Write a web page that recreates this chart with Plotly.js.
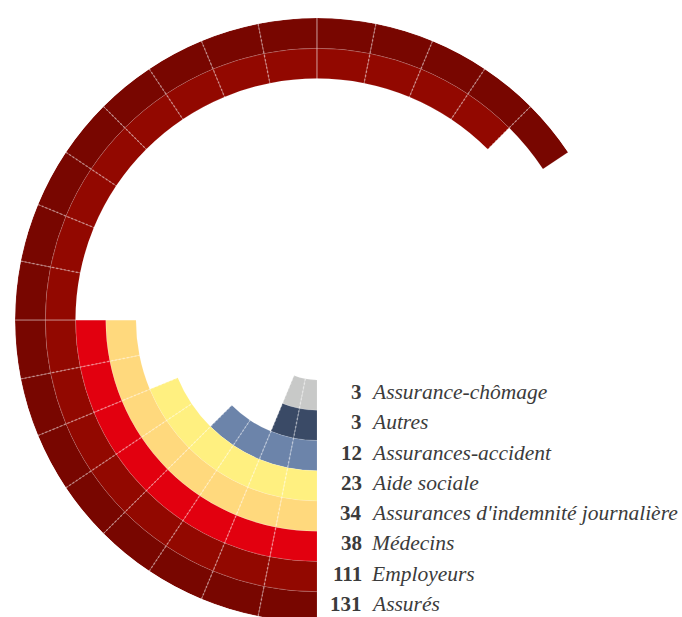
<!DOCTYPE html>
<html><head><meta charset="utf-8">
<script src="https://cdn.plot.ly/plotly-3.0.1.min.js"></script>
<style>html,body{margin:0;padding:0;overflow:hidden;background:#fff}#chart{width:682px;height:630px}</style>
</head><body><div id="chart"></div>
<script>
// Data (inner ring first)
const categories = ["Assurance-chômage","Autres","Assurances-accident","Aide sociale","Assurances d'indemnité journalière","Médecins","Employeurs","Assurés"];
const values = [3, 3, 12, 23, 34, 38, 111, 131];
// number of 11.25° segments drawn for each ring
const segments = [2, 2, 4, 6, 8, 8, 20, 21];
const colors = ["#c8c9c8","#3a4a66","#6c84aa","#fff080","#ffd97d","#e2000f","#920800","#780600"];

const W = 682, H = 630, CX = 317, CY = 320, R = 302, HOLE = 60;
const RING = (R - HOLE) / categories.length;
const SEG = 11.25;

const traces = categories.map((name, i) => {
  const n = segments[i];
  const theta = [], r = [];
  for (let j = 0; j < n; j++) { theta.push(j * SEG + SEG / 2); r.push(RING); }
  return {
    type: 'barpolar', name: name, theta: theta, r: r,
    base: HOLE + RING * i, width: SEG,
    marker: {color: colors[i], line: {color: 'rgba(255,255,255,0.16)', width: 0.8}},
    hoverinfo: 'skip', showlegend: false
  };
});

// segment boundary lines drawn over the rings (dashed, quarter lines solid)
const maxSeg = Math.max(...segments);
for (let k = 1; k < maxSeg; k++) {
  const quarter = (k % 8 === 0);
  traces.push({
    type: 'scatterpolar', mode: 'lines', theta: [k * SEG, k * SEG], r: [HOLE, R],
    line: {color: quarter ? 'rgba(255,255,255,0.4)' : 'rgba(255,255,255,0.32)', width: quarter ? 1.2 : 1.6, dash: quarter ? 'solid' : '2px,2px'},
    hoverinfo: 'skip', showlegend: false
  });
}

const annotations = [];
categories.forEach((name, i) => {
  const y = 1 - (CY + HOLE + RING * (i + 0.5) - 3) / H;
  annotations.push({xref: 'paper', yref: 'paper', x: 363 / W, y: y, xanchor: 'right', yanchor: 'middle',
    text: String(values[i]), showarrow: false, borderpad: 0,
    font: {family: 'Liberation Serif', size: 21, color: '#3b3b3b', weight: 'bold'}});
  annotations.push({xref: 'paper', yref: 'paper', x: 370 / W, y: y, xanchor: 'left', yanchor: 'middle',
    text: name, showarrow: false, borderpad: 0,
    font: {family: 'Liberation Serif', size: 21.5, color: '#3b3b3b', style: 'italic'}});
});

const layout = {
  width: W, height: H, margin: {l: 0, r: 0, t: 0, b: 0},
  paper_bgcolor: '#fff', showlegend: false,
  polar: {
    domain: {x: [(CX - R) / W, (CX + R) / W], y: [(H - CY - R) / H, (H - CY + R) / H]},
    bgcolor: 'rgba(0,0,0,0)', bargap: 0,
    radialaxis: {visible: false, range: [0, R]},
    angularaxis: {rotation: 270, direction: 'clockwise', showgrid: false, showticklabels: false, ticks: '', showline: false}
  },
  annotations: annotations
};
Plotly.newPlot('chart', traces, layout, {displayModeBar: false, staticPlot: true});
</script></body></html>
